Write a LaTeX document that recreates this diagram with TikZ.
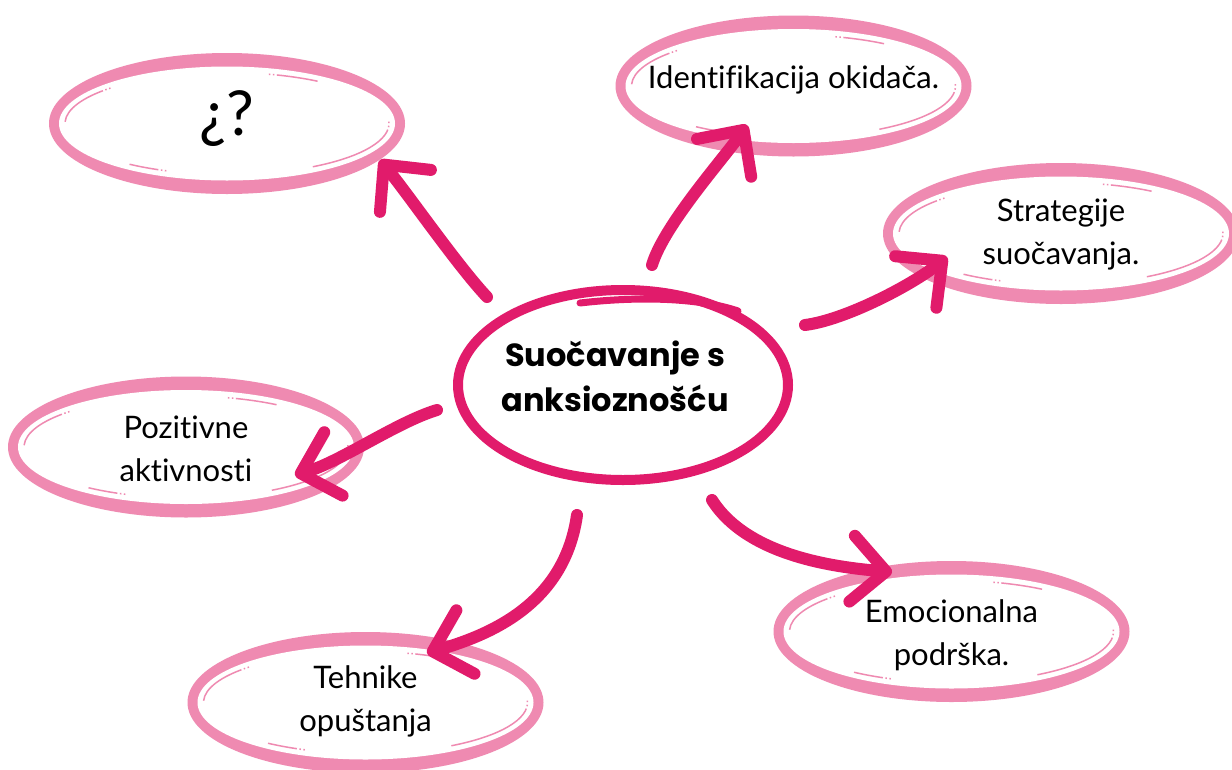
\documentclass[tikz,border=0pt]{standalone}
\usepackage{fontspec}
\setmainfont{Lato}[Ligatures=NoCommon]
\newfontfamily\hubfont{Poppins}
\usetikzlibrary{arrows.meta,shapes.geometric}
\definecolor{pinkd}{RGB}{225,27,107}
\definecolor{pinkl}{RGB}{239,138,177}
\NewDocumentCommand\ctext{O{0pt}O{0pt}m}{\makebox[0pt]{\kern#2\smash{\raisebox{#1}{\begin{tabular}{@{}c@{}}#3\end{tabular}}}}}
\tikzset{
  hilite/.style={draw=pinkl, line width=1.5pt, dash pattern=on 1.5pt off 2.5pt on 1.5pt off 2.5pt on 300pt off 10pt},
  bubble/.style={ellipse, fill=pinkl, minimum width=356pt, minimum height=141pt, inner sep=0pt, outer sep=0pt,
    font=\fontsize{31}{43}\selectfont,
    path picture={
      \begin{scope}[shift={([xshift=-2pt,yshift=6pt]path picture bounding box.center)}]
      \fill[white] (0pt,0pt) ellipse [x radius=168pt, y radius=57pt];
      \draw[hilite] (136:162pt and 51pt) arc [start angle=136, end angle=178, x radius=162pt, y radius=51pt];
      \draw[hilite] (75:162pt and 51pt) arc [start angle=75, end angle=56, x radius=162pt, y radius=51pt];
      \draw[hilite] (2:162pt and 51pt) arc [start angle=2, end angle=-58, x radius=162pt, y radius=51pt];
      \draw[hilite] (248:162pt and 51pt) arc [start angle=248, end angle=233, x radius=162pt, y radius=51pt];
      \end{scope}}},
  hub/.style={ellipse, draw=pinkd, line width=10pt, minimum width=330pt, minimum height=190pt, inner sep=0pt,
    font=\hubfont\bfseries\fontsize{32}{45}\selectfont},
  arrowline/.style={draw=pinkd, line width=12pt, line cap=round, -{Straight Barb[length=34pt, width=66pt, round]}}
}
\def\bubblenode{\node[bubble]}

\begin{document}
\begin{tikzpicture}[x=1pt,y=-1pt]
\fill[white] (0,0) rectangle (1232,769);
\useasboundingbox (0,0) rectangle (1232,769);
\node[hub] (hub) at (623,385) {\ctext[-1pt][-16pt]{Suočavanje s\\anksioznošću}};
\draw[pinkd, line width=7pt, line cap=round] ([shift={(-43,-82)}]hub.center) .. controls +(60,-7) and +(-38,-13) .. ([shift={(115,-74)}]hub.center);
\bubblenode (qm) at (227,123.5) {\ctext[-2pt]{\fontsize{62}{64}\selectfont ¿?}};
\bubblenode (idf) at (793.5,86) {\ctext{Identifikacija okidača.}};
\bubblenode (str) at (1061,233.5) {\ctext[-7pt]{Strategije\\suočavanja.}};
\bubblenode (poz) at (186,447) {\ctext[-11pt]{Pozitivne\\aktivnosti}};
\bubblenode (teh) at (365.5,702.5) {\ctext[-5pt]{Tehnike\\opuštanja}};
\bubblenode (emo) at (951.5,631.5) {\ctext[-10pt]{Emocionalna\\podrška.}};
\draw[arrowline] ([shift={(-136,-88)}]hub.center) .. controls +(-30,-32) and +(28,34) .. ([shift={(153,36.5)}]qm.center);
\draw[arrowline] ([shift={(29,-120)}]hub.center) .. controls +(12,-40) and +(-23,33) .. ([shift={(-46.5,39)}]idf.center);
\draw[arrowline] ([shift={(182,-60)}]hub.center) .. controls +(40,-5) and +(-35,28) .. ([shift={(-114,23.5)}]str.center);
\draw[arrowline] ([shift={(-186,25)}]hub.center) .. controls +(-40,12) and +(45,-13) .. ([shift={(109,28)}]poz.center);
\draw[arrowline] ([shift={(-46,130)}]hub.center) .. controls +(-12,85) and +(70,-20) .. ([shift={(61.5,-49.5)}]teh.center);
\draw[arrowline] ([shift={(89,115)}]hub.center) .. controls +(35,55) and +(-60,-5) .. ([shift={(-59.5,-59.5)}]emo.center);
\end{tikzpicture}
\end{document}
